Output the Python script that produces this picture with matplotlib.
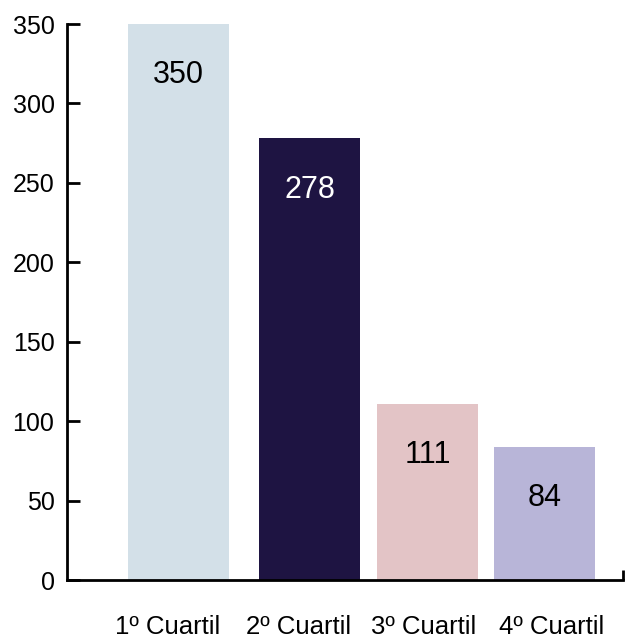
import matplotlib.pyplot as plt
from matplotlib.ticker import FixedLocator

categories = ["1º Cuartil", "2º Cuartil", "3º Cuartil", "4º Cuartil"]
values = [350, 278, 111, 84]
colors = ["#D3E0E8", "#1E1442", "#E3C4C6", "#B8B5D8"]
label_colors = ["black", "white", "black", "black"]

# layout (pixel-like units along the x axis)
bar_pos = [111.5, 242.5, 360.5, 477.5]
tick_pos = [101, 232, 357, 485]
bar_width = 101

plt.rcParams["font.family"] = ["Liberation Sans", "DejaVu Sans"]

fig = plt.figure(figsize=(6.27, 6.41), dpi=100)
ax = fig.add_axes([67 / 627, 61 / 641, 556 / 627, 556 / 641])

bars = ax.bar(bar_pos, values, width=bar_width, color=colors)
for b, v, c in zip(bars, values, label_colors):
    ax.annotate(str(v), (b.get_x() + b.get_width() / 2, v),
                xytext=(0, -37), textcoords="offset points",
                ha="center", va="center", fontsize=22, color=c)

ax.set_xlim(0, 556)
ax.set_ylim(0, 350)
ax.set_yticks(range(0, 351, 50))
ax.set_xticks(tick_pos)
ax.set_xticklabels(categories)
ax.xaxis.set_minor_locator(FixedLocator([556]))

ax.tick_params(axis="y", direction="in", length=9, width=2, labelsize=18, pad=9)
ax.tick_params(axis="x", which="major", length=0, labelsize=18.5, pad=25)
ax.tick_params(axis="x", which="minor", direction="in", length=7, width=2)

for s in ["top", "right"]:
    ax.spines[s].set_visible(False)
for s in ["left", "bottom"]:
    ax.spines[s].set_linewidth(2)

fig.savefig("out.png", dpi=100)
